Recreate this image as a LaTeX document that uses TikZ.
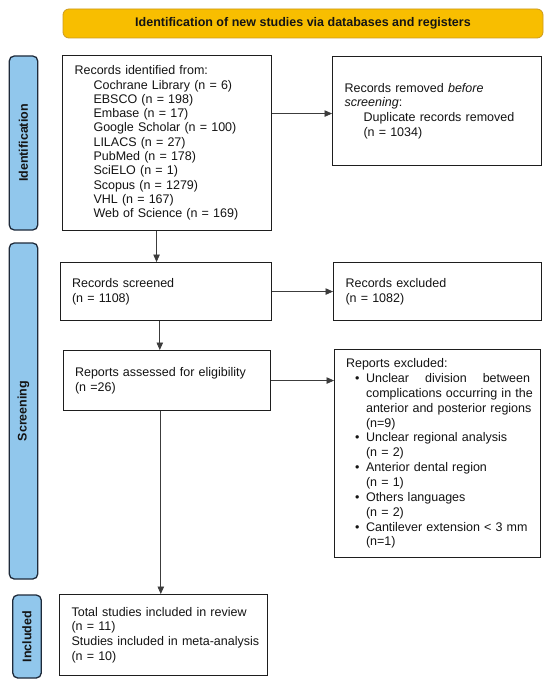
\documentclass[tikz,border=0pt]{standalone}
\usepackage{fontspec}
\setmainfont{Liberation Sans}
\usetikzlibrary{arrows.meta}
\definecolor{gold}{RGB}{248,190,0}
\definecolor{goldline}{RGB}{205,155,30}
\definecolor{barblue}{RGB}{145,199,236}
\definecolor{barline}{RGB}{30,42,58}
\definecolor{boxline}{RGB}{30,30,30}
\definecolor{arrline}{RGB}{60,60,60}
\definecolor{txtcol}{RGB}{20,20,20}
\newcommand{\oneline}[1]{\mbox{#1}}
\newcommand{\bul}{\hspace*{9pt}\makebox[11pt][l]{\textbullet}}
\newcommand{\hangsp}{\hspace*{20pt}}
\begin{document}
\begin{tikzpicture}[x=1pt,y=-1pt,
  txt/.style={font=\fontsize{12.5}{14.6}\selectfont, text=txtcol},
  stagebox/.style={draw=boxline, line width=1.1pt, fill=white, anchor=north west,
    align=left, inner xsep=12pt, inner ysep=0pt, txt},
  sidebar/.style={draw=barline, line width=1.3pt, fill=barblue, rounded corners=5pt,
    rotate=90, minimum height=28.5pt, inner sep=0pt,
    font=\bfseries\fontsize{12.5}{14.6}\selectfont, text=txtcol},
  arr/.style={draw=arrline, line width=0.7pt, -{Triangle[length=7.5pt,width=6.5pt]}}
]
\useasboundingbox (0,0) rectangle (550,685);
\fill[white] (0,0) rectangle (550,685);

% banner
\node[draw=goldline, line width=0.8pt, fill=gold, rounded corners=6pt,
  minimum width=480pt, minimum height=29pt, inner sep=0pt,
  font=\bfseries\fontsize{12.5}{14.6}\selectfont, text=txtcol] (banner) at (303,23.5)
  {Identification of new studies via databases and registers};

% side bars
\node[sidebar, minimum width=174pt] (idbar) at (23.5,143) {Identification};
\node[sidebar, minimum width=336pt] (scbar) at (23.5,411) {Screening};
\node[sidebar, minimum width=83pt] (inbar) at (27,636.5) {Included};

% boxes
\node[stagebox, text width=185pt, minimum height=175pt,
  font=\fontsize{12.5}{14.3}\selectfont] (rid) at (62,55) {%
\oneline{Records identified from:}\\
\oneline{\hspace*{19pt}Cochrane Library (n = 6)}\\
\oneline{\hspace*{19pt}EBSCO (n = 198)}\\
\oneline{\hspace*{19pt}Embase (n = 17)}\\
\oneline{\hspace*{19pt}Google Scholar (n = 100)}\\
\oneline{\hspace*{19pt}LILACS (n = 27)}\\
\oneline{\hspace*{19pt}PubMed (n = 178)}\\
\oneline{\hspace*{19pt}SciELO (n = 1)}\\
\oneline{\hspace*{19pt}Scopus (n = 1279)}\\
\oneline{\hspace*{19pt}VHL (n = 167)}\\
\oneline{\hspace*{19pt}Web of Science (n = 169)}};

\node[stagebox, text width=185pt, minimum height=109pt] (rem) at (332,56) {%
\oneline{Records removed \textit{before}}\\
\oneline{\textit{screening}:}\\
\oneline{\hspace*{19pt}Duplicate records removed}\\
\oneline{\hspace*{19pt}(n = 1034)}};

\node[stagebox, text width=187.5pt, minimum height=58pt] (scr) at (59.5,262) {%
\oneline{Records screened}\\
\oneline{(n = 1108)}};

\node[stagebox, text width=184pt, minimum height=58pt] (exc) at (333,262) {%
\oneline{Records excluded}\\
\oneline{(n = 1082)}};

\node[stagebox, text width=183.5pt, minimum height=60pt] (ass) at (62.5,350) {%
\oneline{Reports assessed for eligibility}\\
\oneline{(n =26)}};

\node[stagebox, inner xsep=11.5pt, text width=183pt, minimum height=208pt,
  font=\fontsize{12.5}{14.85}\selectfont] (rex) at (334,349) {%
\oneline{Reports excluded:}\\
\oneline{\bul\makebox[164pt][l]{Unclear\hfill division\hfill between}}\\
\oneline{\hangsp complications occurring in the}\\
\oneline{\hangsp anterior and posterior regions}\\
\oneline{\hangsp (n=9)}\\
\oneline{\bul Unclear regional analysis}\\
\oneline{\hangsp (n = 2)}\\
\oneline{\bul Anterior dental region}\\
\oneline{\hangsp (n = 1)}\\
\oneline{\bul Others languages}\\
\oneline{\hangsp (n = 2)}\\
\oneline{\bul Cantilever extension < 3 mm}\\
\oneline{\hangsp (n=1)}};

\node[stagebox, text width=184pt, minimum height=81pt,
  font=\fontsize{12.5}{14.7}\selectfont] (inc) at (59,594) {%
\oneline{Total studies included in review}\\
\oneline{(n = 11)}\\
\oneline{Studies included in meta-analysis}\\
\oneline{(n = 10)}};

% connectors
\draw[arr] ([yshift=29.5pt]rid.east) -- ([yshift=29.5pt]rid.east -| rem.west);
\draw[arr] ([xshift=-10.5pt]rid.south) -- ([xshift=-10.5pt]rid.south |- scr.north);
\draw[arr] (scr.east) -- (scr.east -| exc.west);
\draw[arr] ([xshift=-6pt]scr.south) -- ([xshift=-6pt]scr.south |- ass.north);
\draw[arr] (ass.east) -- (ass.east -| rex.west);
\draw[arr] ([xshift=-6pt]ass.south) -- ([xshift=-6pt]ass.south |- inc.north);
\end{tikzpicture}
\end{document}
